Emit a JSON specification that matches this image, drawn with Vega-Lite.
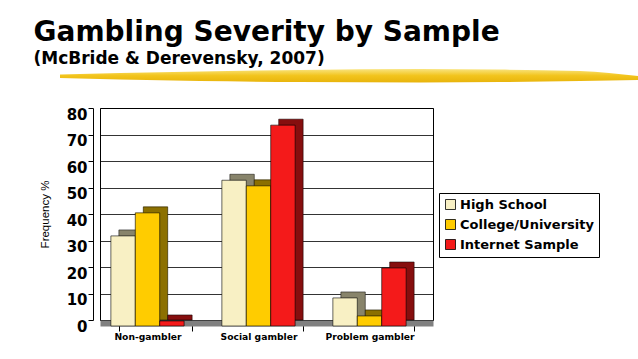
{
  "$schema": "https://vega.github.io/schema/vega-lite/v6.json",
  "background": "white",
  "padding": {"left": 33, "top": 19, "right": 0, "bottom": 0},
  "title": {
    "text": "Gambling Severity by Sample",
    "subtitle": "(McBride & Derevensky, 2007)",
    "anchor": "start",
    "frame": "group",
    "font": "DejaVu Sans",
    "fontSize": 28,
    "fontWeight": "bold",
    "color": "black",
    "subtitleFont": "DejaVu Sans",
    "subtitleFontSize": 17,
    "subtitleFontWeight": "bold",
    "subtitleColor": "black",
    "subtitlePadding": 4,
    "offset": 2,
    "dx": -66.5
  },
  "align": "none",
  "spacing": 23,
  "config": {"view": {"stroke": null}},
  "vconcat": [
    {
      "width": 538,
      "height": 14,
      "data": {"values": [
        {"pos": 0.0, "top": 0.61, "bottom": 0.36},
        {"pos": 0.104, "top": 0.71, "bottom": 0.25},
        {"pos": 0.242, "top": 0.82, "bottom": 0.14},
        {"pos": 0.415, "top": 0.93, "bottom": 0.07},
        {"pos": 0.623, "top": 1.0, "bottom": 0.04},
        {"pos": 0.761, "top": 0.96, "bottom": 0.07},
        {"pos": 0.9, "top": 0.86, "bottom": 0.14},
        {"pos": 1.0, "top": 0.5, "bottom": 0.21}
      ]},
      "mark": {
        "type": "area",
        "interpolate": "monotone",
        "clip": false,
        "fill": {"gradient": "linear", "x1": 0, "y1": 0, "x2": 0, "y2": 1,
          "stops": [
            {"offset": 0, "color": "#F9E47E"},
            {"offset": 0.5, "color": "#F2C41C"},
            {"offset": 1, "color": "#E8B40C"}
          ]}
      },
      "encoding": {
        "x": {"field": "pos", "type": "quantitative", "scale": {"domain": [0.0692, 1], "nice": false, "zero": false}, "axis": null},
        "y": {"field": "top", "type": "quantitative", "scale": {"domain": [0, 1], "nice": false}, "axis": null},
        "y2": {"field": "bottom"}
      }
    },
    {
      "width": 333,
      "height": 212,
      "view": {"stroke": "black", "strokeWidth": 1},
      "data": {"values": [
        {"category": "Non-gambler", "sample": "High School", "value": 34},
        {"category": "Non-gambler", "sample": "College/University", "value": 42.7},
        {"category": "Non-gambler", "sample": "Internet Sample", "value": 1.9},
        {"category": "Social gambler", "sample": "High School", "value": 55},
        {"category": "Social gambler", "sample": "College/University", "value": 52.9},
        {"category": "Social gambler", "sample": "Internet Sample", "value": 75.8},
        {"category": "Problem gambler", "sample": "High School", "value": 10.6},
        {"category": "Problem gambler", "sample": "College/University", "value": 3.8},
        {"category": "Problem gambler", "sample": "Internet Sample", "value": 21.9}
      ]},
      "encoding": {
        "x": {
          "field": "category", "type": "nominal",
          "sort": ["Non-gambler", "Social gambler", "Problem gambler"],
          "scale": {"paddingInner": 0.34, "paddingOuter": 0.17},
          "axis": {
            "title": null, "labelAngle": 0,
            "labelFont": "DejaVu Sans", "labelFontSize": 9.2, "labelFontWeight": "bold", "labelColor": "black",
            "offset": 3, "domainColor": "#808080", "domainWidth": 6,
            "tickBand": "extent", "tickColor": "black", "tickSize": 8, "tickOffset": -8,
            "labelOffset": -8, "labelPadding": 1
          }
        },
        "y": {
          "field": "value", "type": "quantitative",
          "scale": {"domain": [0, 80], "nice": false},
          "axis": {
            "title": "Frequency %",
            "values": [0, 10, 20, 30, 40, 50, 60, 70, 80],
            "offset": 7, "labelOffset": 6,
            "labelFont": "DejaVu Sans", "labelFontSize": 15, "labelFontWeight": "bold", "labelColor": "black",
            "tickSize": 5, "tickColor": "black", "labelPadding": 1,
            "domainColor": "black",
            "grid": true, "gridColor": "black", "gridWidth": 0.8, "gridOpacity": 1,
            "titleFont": "Liberation Sans", "titleFontSize": 11.5, "titleFontWeight": "normal", "titleColor": "black",
            "titlePadding": 16
          }
        }
      },
      "resolve": {"scale": {"xOffset": "independent"}},
      "layer": [
        {
          "mark": {"type": "bar", "stroke": "black", "strokeWidth": 0.5},
          "encoding": {
            "xOffset": {
              "field": "sample", "type": "nominal",
              "sort": ["High School", "College/University", "Internet Sample"],
              "scale": {"paddingInner": 0, "paddingOuter": 0}
            },
            "color": {
              "field": "sample", "type": "nominal",
              "scale": {"domain": ["High School", "College/University", "Internet Sample"], "range": ["#F8F0C4", "#FFCC00", "#F41A1A"]},
              "legend": {
                "title": null, "orient": "none", "legendX": 339, "legendY": 124, "direction": "vertical",
                "strokeColor": "black", "fillColor": "white", "padding": 5,
                "labelFont": "DejaVu Sans", "labelFontSize": 13, "labelFontWeight": "bold", "labelColor": "black",
                "symbolType": "square", "symbolSize": 100, "symbolStrokeColor": "black", "symbolStrokeWidth": 0.8,
                "symbolOpacity": 1, "rowPadding": 5, "labelOffset": 3
              }
            }
          }
        },
        {
          "mark": {"type": "bar", "color": "black", "opacity": 0.45},
          "encoding": {
            "xOffset": {
              "field": "sample", "type": "nominal",
              "sort": ["High School", "College/University", "Internet Sample"],
              "scale": {"paddingInner": 0, "paddingOuter": 0}
            }
          }
        },
        {
          "mark": {"type": "bar", "yOffset": 6, "y2Offset": 6, "stroke": "black", "strokeWidth": 0.6},
          "encoding": {
            "xOffset": {
              "field": "sample", "type": "nominal",
              "sort": ["High School", "College/University", "Internet Sample"],
              "scale": {"paddingInner": 0, "paddingOuter": 0, "range": [-8, 65.26]}
            },
            "color": {
              "field": "sample", "type": "nominal",
              "scale": {"domain": ["High School", "College/University", "Internet Sample"], "range": ["#F8F0C4", "#FFCC00", "#F41A1A"]},
              "legend": {
                "title": null, "orient": "none", "legendX": 339, "legendY": 124, "direction": "vertical",
                "strokeColor": "black", "fillColor": "white", "padding": 5,
                "labelFont": "DejaVu Sans", "labelFontSize": 13, "labelFontWeight": "bold", "labelColor": "black",
                "symbolType": "square", "symbolSize": 100, "symbolStrokeColor": "black", "symbolStrokeWidth": 0.8,
                "symbolOpacity": 1, "rowPadding": 5, "labelOffset": 3
              }
            }
          }
        }
      ]
    }
  ]
}
